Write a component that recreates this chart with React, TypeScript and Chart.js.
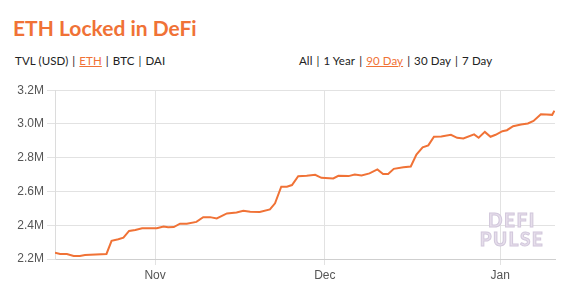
import React, { useEffect, useRef } from "react";
import { Chart, registerables } from "chart.js";

Chart.register(...registerables);

// x: days relative to Nov 1 (Nov 1 = 0, Dec 1 = 30, Jan 1 = 61)
const dayOffsets = [
  -17.7, -16.8, -15.6, -14.4, -13.3, -12.4, -8.6, -7.7, -6.5, -5.6, -4.6, -3.5, -2.3,
  0.3, 1.5, 2.3, 3.3, 4.4, 5.6, 7.3, 8.5, 9.7, 10.9, 12.7, 14.4, 15.6, 16.8, 18.5,
  20.3, 21.2, 22.3, 23.3, 24.2, 25.3, 26.8, 28.3, 29.4, 31.5, 32.4, 34.2, 35.3, 36.5,
  37.9, 39.3, 40.3, 41.2, 42.2, 43.9, 45.2, 46.2, 47.3, 48.3, 49.3, 50.6, 52.3, 53.4,
  54.5, 56.4, 57.2, 58.3, 59.3, 60.2, 61.4, 62.2, 63.3, 64.7, 65.9, 66.9, 68.2, 69.2,
  70.2, 70.6,
];
// ETH locked, millions
const ethLocked = [
  2.237, 2.23, 2.23, 2.218, 2.218, 2.224, 2.23, 2.308, 2.317, 2.326, 2.366, 2.372, 2.382,
  2.382, 2.393, 2.388, 2.389, 2.409, 2.409, 2.42, 2.448, 2.448, 2.44, 2.47, 2.476, 2.486, 2.48, 2.478,
  2.494, 2.53, 2.628, 2.628, 2.638, 2.69, 2.693, 2.699, 2.681, 2.677, 2.693, 2.691, 2.701, 2.695,
  2.707, 2.731, 2.703, 2.703, 2.734, 2.743, 2.748, 2.819, 2.861, 2.873, 2.924, 2.926, 2.936, 2.918,
  2.914, 2.938, 2.918, 2.953, 2.924, 2.936, 2.957, 2.963, 2.987, 2.997, 3.003, 3.018, 3.058, 3.056,
  3.054, 3.078,
];
const xTickPositions = [0, 30, 61];
const xTickLabels = ["Nov", "Dec", "Jan"];
const xMin = -17.7;
const xMax = 70.7;
const yMin = 2.2;
const yMax = 3.2;
const yStep = 0.2;

const title = "ETH Locked in DeFi";
const leftTabs = ["TVL (USD)", "ETH", "BTC", "DAI"];
const leftActive = "ETH";
const rightTabs = ["All", "1 Year", "90 Day", "30 Day", "7 Day"];
const rightActive = "90 Day";

const ORANGE = "#f07236";

function Tabs({ items, active }: { items: string[]; active: string }) {
  const out: React.ReactNode[] = [];
  items.forEach((t, i) => {
    if (i > 0) out.push(<span key={"s" + i} style={{ margin: "0 4px" }}>|</span>);
    out.push(
      <span
        key={t}
        style={
          t === active
            ? { color: ORANGE, textDecoration: "underline" }
            : { color: "#222" }
        }
      >
        {t}
      </span>
    );
  });
  return <>{out}</>;
}

export default function App() {
  const ref = useRef<HTMLCanvasElement | null>(null);
  useEffect(() => {
    if (!ref.current) return;
    const chart = new Chart(ref.current, {
      type: "line",
      data: {
        datasets: [
          {
            data: dayOffsets.map((d, i) => ({ x: d, y: ethLocked[i] })),
            borderColor: ORANGE,
            borderWidth: 2,
            pointRadius: 0,
            tension: 0,
            fill: false,
          },
        ],
      },
      options: {
        animation: false,
        responsive: false,
        maintainAspectRatio: false,
        layout: { padding: { top: 10, right: 18, left: 0, bottom: 0 } },
        plugins: { legend: { display: false }, tooltip: { enabled: false } },
        scales: {
          x: {
            type: "linear",
            min: xMin,
            max: xMax,
            afterBuildTicks: (s: any) => {
              s.ticks = xTickPositions.map((v) => ({ value: v }));
            },
            afterFit: (s: any) => {
              s.height = 33;
            },
            ticks: {
              autoSkip: false,
              maxRotation: 0,
              padding: 3,
              color: "#555",
              font: { family: "Liberation Sans, Arial, sans-serif", size: 12 },
              callback: (v: any) => {
                const i = xTickPositions.indexOf(Number(v));
                return i >= 0 ? xTickLabels[i] : "";
              },
            },
            grid: { color: "#e2e2e2", tickLength: 6 },
            border: { color: "#cfcfcf" },
          },
          y: {
            min: yMin,
            max: yMax,
            afterFit: (s: any) => {
              s.width = 55;
            },
            ticks: {
              stepSize: yStep,
              padding: 3,
              color: "#555",
              font: { family: "Liberation Sans, Arial, sans-serif", size: 12 },
              callback: (v: any) => Number(v).toFixed(1) + "M",
            },
            grid: { color: "#e2e2e2", tickLength: 8 },
            border: { color: "#dcdcdc" },
          },
        },
      },
    });
    return () => chart.destroy();
  }, []);

  const tabStyle: React.CSSProperties = {
    position: "absolute",
    top: 54,
    fontSize: 11.5,
    letterSpacing: 0.1,
    whiteSpace: "nowrap",
    color: "#222",
  };

  return (
    <div
      style={{
        position: "absolute",
        left: 0,
        top: 0,
        width: 573,
        height: 292,
        background: "#fff",
        overflow: "hidden",
        fontFamily: "Lato, 'Open Sans', sans-serif",
      }}
    >
      <div
        style={{
          position: "absolute",
          left: 13,
          top: 15,
          fontSize: 21,
          fontWeight: 700,
          color: ORANGE,
          whiteSpace: "nowrap",
        }}
      >
        {title}
      </div>
      <div style={{ ...tabStyle, left: 15 }}>
        <Tabs items={leftTabs} active={leftActive} />
      </div>
      <div style={{ ...tabStyle, left: 299 }}>
        <Tabs items={rightTabs} active={rightActive} />
      </div>
      <canvas
        ref={ref}
        width={573}
        height={212}
        style={{ position: "absolute", left: 0, top: 80, width: 573, height: 212 }}
      />
      <div
        style={{
          position: "absolute",
          left: 476,
          top: 210,
          width: 72,
          textAlign: "center",
          fontSize: 19,
          fontWeight: 700,
          lineHeight: "19px",
          letterSpacing: 1.5,
          color: "#e6deeb",
          WebkitTextStroke: "1px #d2c8dc",
          fontFamily: "Lato, 'Open Sans', sans-serif",
          pointerEvents: "none",
        }}
      >
        <div>DEFI</div>
        <div>PULSE</div>
      </div>
    </div>
  );
}
